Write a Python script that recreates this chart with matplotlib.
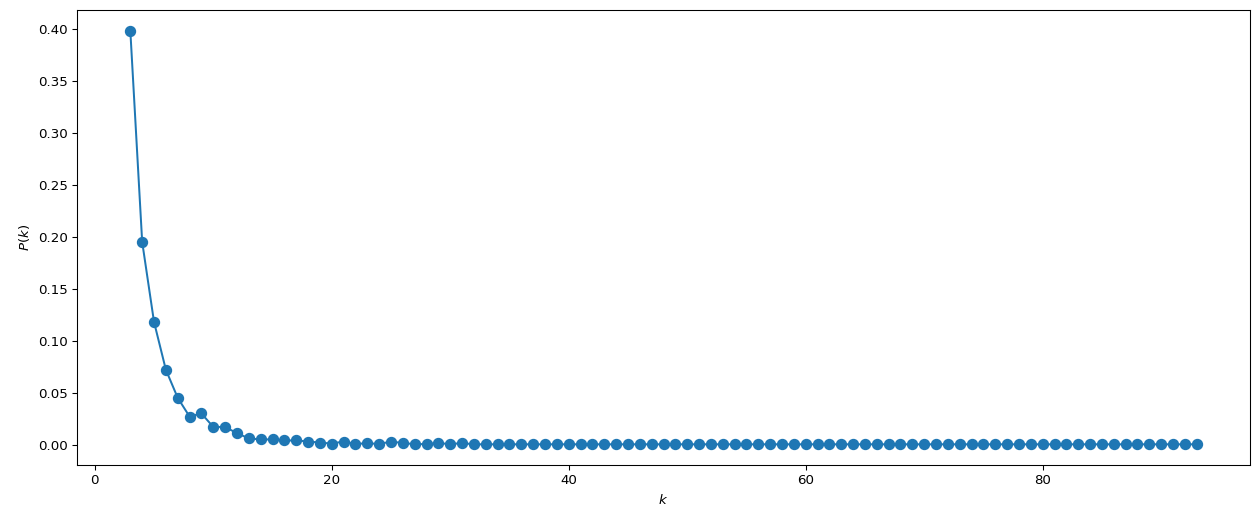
import matplotlib
matplotlib.use("Agg")
import matplotlib.pyplot as plt
import numpy as np

# degree distribution P(k)
k = np.arange(3, 94)
p_first = [0.398, 0.195, 0.118, 0.072, 0.045, 0.027, 0.030, 0.017, 0.017, 0.011,
           0.006, 0.005, 0.005, 0.004, 0.004, 0.003, 0.002, 0.001, 0.003, 0.0005,
           0.0015, 0.0005, 0.003, 0.0015, 0.0005, 0.0005, 0.0015, 0.0005, 0.0015]
p_k = p_first + [0.0003] * (len(k) - len(p_first))

fig = plt.figure(figsize=(1253 / 96, 510 / 96), dpi=96)
ax = fig.add_axes([77 / 1253, 45 / 510, (1250 - 77) / 1253, (465 - 10) / 510])
ax.plot(k, p_k, marker='o', markersize=7.5, color='#1f77b4')
ax.set_xlabel('$k$')
ax.set_ylabel('$P(k)$')

fig.savefig('out.png', dpi=96)
